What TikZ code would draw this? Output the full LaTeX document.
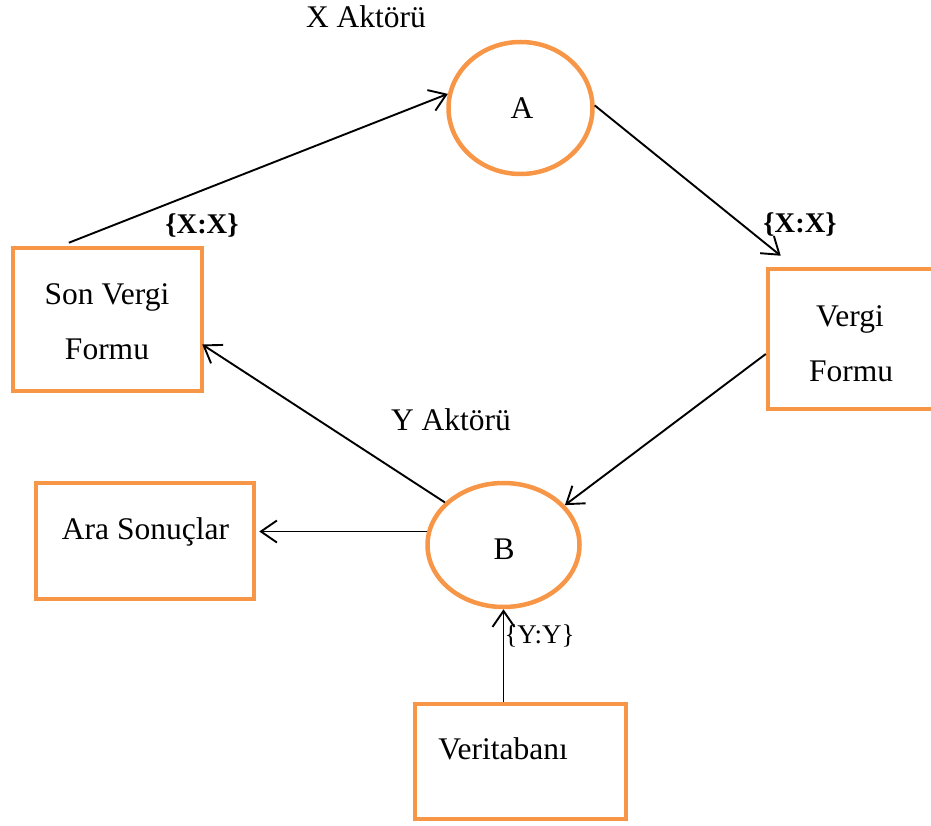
\documentclass[tikz,border=0pt]{standalone}
\usepackage{fontspec}
\setmainfont{Liberation Serif}
\usetikzlibrary{shapes.geometric,arrows.meta,calc}
\definecolor{boxorange}{HTML}{F79646}
\begin{document}
\begin{tikzpicture}[x=1pt,y=-1pt,
  actor/.style={ellipse,draw=boxorange,line width=4.5pt,inner sep=0pt},
  store/.style={rectangle,draw=boxorange,line width=4.5pt,inner sep=0pt},
  lbl/.style={inner sep=0pt,anchor=base,font=\fontsize{31.5}{38}\selectfont},
  tag/.style={inner sep=0pt,anchor=base,font=\bfseries\fontsize{28.5}{34}\selectfont},
  flow/.style={line width=1.9pt,-{Straight Barb[length=16pt,width=22pt]}},
]
\useasboundingbox (0,0) rectangle (931,826);
\clip (0,0) rectangle (931,826);

% actors
\node[actor,minimum width=144pt,minimum height=132pt] (A) at (520.5,108) {};
\node[actor,minimum width=152pt,minimum height=124pt] (B) at (503.5,545) {};

% documents and stores
\node[store,minimum width=189pt,minimum height=143pt] (svf) at (107.5,319.5) {};
\node[store,minimum width=192pt,minimum height=140pt] (vf)  at (864,339) {};
\node[store,minimum width=218pt,minimum height=116pt] (ara) at (145,541) {};
\node[store,minimum width=211pt,minimum height=115pt] (vt)  at (520.5,761.5) {};

% texts
\node[lbl] (xakt) at (366,28) {X Aktörü};
\node[lbl] (atxt) at (522,119) {A};
\node[lbl] (yakt) at (451,430) {Y Aktörü};
\node[lbl] (btxt) at (504,559) {B};
\node[lbl] (svf1) at (107,304) {Son Vergi};
\node[lbl] (svf2) at (107,359) {Formu};
\node[lbl] (vf1)  at (850,326) {Vergi};
\node[lbl] (vf2)  at (851,381) {Formu};
\node[lbl] (aratxt) at (145.5,539) {Ara Sonuçlar};
\node[lbl] (vttxt) at (503,759) {Veritabanı};
\node[tag] (xx1) at (202,234) {\{X:X\}};
\node[tag] (xx2) at (800,233) {\{X:X\}};
\node[inner sep=0pt,anchor=base,font=\fontsize{27}{32}\selectfont] (yy) at (539.5,643) {\{Y:Y\}};

% flows
\coordinate (vfin) at ($(vf.north west)+(15,-11)$);
\draw[flow] ($(svf.north west)!0.3!(svf.north east)+(0,-3)$) -- (A.169);
\draw[flow] (A.2) -- (vfin);
\draw[flow] ($(vf.west)+(0,15)$) -- (B.33);
\draw[flow] (B.144) -- ($(svf.east)+(-2,25)$);
\draw[flow] (B.170) -- ($(B.170 -| ara.east)+(3,0)$);
\draw[flow] (B.south |- vt.north) -- (B.south);
\end{tikzpicture}
\end{document}
